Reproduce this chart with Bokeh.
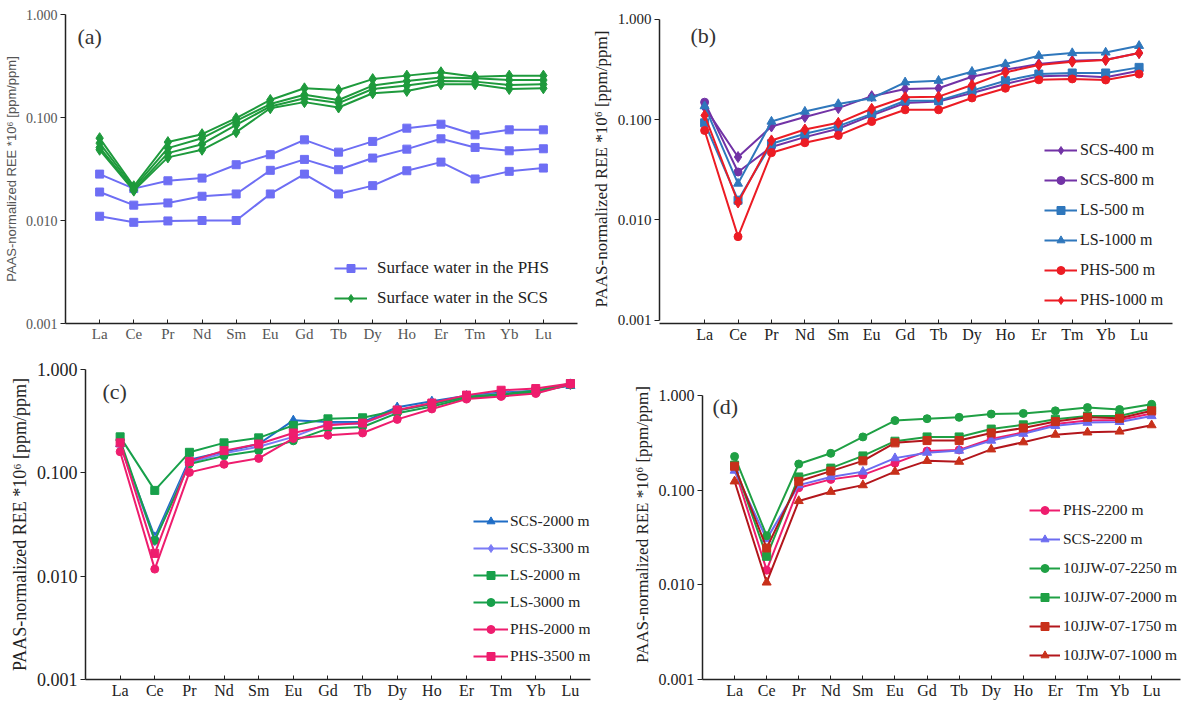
from bokeh.plotting import figure
from bokeh.models import (Range1d, FixedTicker, PrintfTickFormatter, ColumnDataSource,
                          Legend, LegendItem, Label)
from bokeh.layouts import column, row
from bokeh.embed import file_html
from bokeh.resources import INLINE

elements = ["La", "Ce", "Pr", "Nd", "Sm", "Eu", "Gd", "Tb", "Dy", "Ho", "Er", "Tm", "Yb", "Lu"]
x_pos = list(range(1, 15))
y_ticks = [0.001, 0.01, 0.1, 1.0]
y_title = "PAAS-normalized REE *10\u2076 [ppm/ppm]"

# ---- panel (a): surface water
a_phs_1 = [0.0282, 0.0204, 0.0243, 0.0258, 0.0348, 0.0435, 0.0607, 0.0461, 0.0586, 0.0788, 0.0861, 0.0679, 0.0759, 0.0759]
a_phs_2 = [0.0189, 0.0141, 0.0148, 0.0172, 0.0181, 0.0307, 0.0392, 0.0311, 0.0404, 0.0493, 0.0621, 0.0512, 0.0475, 0.0497]
a_phs_3 = [0.0110, 0.0096, 0.0099, 0.0100, 0.0100, 0.0181, 0.0282, 0.0181, 0.0218, 0.0304, 0.0369, 0.0253, 0.0300, 0.0323]
a_scs_1 = [0.0630, 0.0215, 0.0577, 0.0689, 0.0985, 0.148, 0.192, 0.185, 0.236, 0.255, 0.275, 0.249, 0.255, 0.255]
a_scs_2 = [0.0564, 0.0207, 0.0504, 0.0630, 0.0927, 0.135, 0.166, 0.148, 0.204, 0.226, 0.244, 0.240, 0.231, 0.231]
a_scs_3 = [0.0512, 0.0199, 0.0451, 0.0551, 0.0848, 0.128, 0.154, 0.138, 0.189, 0.204, 0.226, 0.223, 0.207, 0.210]
a_scs_4 = [0.0486, 0.0195, 0.0410, 0.0486, 0.0721, 0.123, 0.141, 0.125, 0.172, 0.181, 0.210, 0.210, 0.189, 0.192]
a_labels = ["Surface water in the PHS", "Surface water in the SCS"]

# ---- panel (b)
b_labels = ["SCS-400 m", "SCS-800 m", "LS-500 m", "LS-1000 m", "PHS-500 m", "PHS-1000 m"]
b_scs_400 = [0.133, 0.0423, 0.0853, 0.106, 0.130, 0.171, 0.202, 0.205, 0.267, 0.314, 0.357, 0.385, 0.395, 0.460]
b_scs_800 = [0.149, 0.0300, 0.0532, 0.0668, 0.0809, 0.110, 0.146, 0.151, 0.184, 0.226, 0.270, 0.274, 0.264, 0.307]
b_ls_500 = [0.0927, 0.0157, 0.0574, 0.0721, 0.0860, 0.114, 0.154, 0.154, 0.194, 0.244, 0.284, 0.291, 0.291, 0.331]
b_ls_1000 = [0.136, 0.0230, 0.0955, 0.120, 0.143, 0.163, 0.235, 0.244, 0.300, 0.357, 0.432, 0.460, 0.466, 0.543]
b_phs_500 = [0.0778, 0.0068, 0.0467, 0.0587, 0.0694, 0.0955, 0.125, 0.125, 0.164, 0.205, 0.249, 0.254, 0.248, 0.284]
b_phs_1000 = [0.110, 0.0149, 0.0619, 0.0796, 0.0927, 0.128, 0.167, 0.169, 0.221, 0.295, 0.349, 0.377, 0.392, 0.460]

# ---- panel (c)
c_labels = ["SCS-2000 m", "SCS-3300 m", "LS-2000 m", "LS-3000 m", "PHS-2000 m", "PHS-3500 m"]
c_scs_2000 = [0.190, 0.0239, 0.134, 0.160, 0.190, 0.322, 0.310, 0.310, 0.431, 0.492, 0.557, 0.599, 0.622, 0.695]
c_scs_3300 = [0.186, 0.0222, 0.126, 0.155, 0.179, 0.223, 0.299, 0.299, 0.401, 0.464, 0.545, 0.586, 0.612, 0.719]
c_ls_2000 = [0.223, 0.0676, 0.158, 0.195, 0.218, 0.288, 0.333, 0.341, 0.401, 0.464, 0.545, 0.577, 0.622, 0.731]
c_ls_3000 = [0.207, 0.0222, 0.122, 0.146, 0.164, 0.204, 0.268, 0.278, 0.378, 0.438, 0.529, 0.570, 0.599, 0.710]
c_phs_2000 = [0.160, 0.0117, 0.101, 0.121, 0.138, 0.215, 0.231, 0.243, 0.329, 0.415, 0.517, 0.549, 0.586, 0.719]
c_phs_3500 = [0.195, 0.0166, 0.129, 0.164, 0.190, 0.243, 0.288, 0.303, 0.406, 0.474, 0.565, 0.630, 0.654, 0.731]

# ---- panel (d)
d_labels = ["PHS-2200 m", "SCS-2200 m", "10JJW-07-2250 m", "10JJW-07-2000 m", "10JJW-07-1750 m", "10JJW-07-1000 m"]
d_phs_2200 = [0.168, 0.0143, 0.106, 0.130, 0.145, 0.193, 0.259, 0.266, 0.348, 0.408, 0.501, 0.543, 0.551, 0.647]
d_scs_2200 = [0.161, 0.0304, 0.113, 0.138, 0.157, 0.218, 0.249, 0.262, 0.334, 0.395, 0.478, 0.517, 0.526, 0.607]
d_jjw_2250 = [0.227, 0.0330, 0.189, 0.245, 0.365, 0.543, 0.569, 0.588, 0.636, 0.647, 0.689, 0.746, 0.711, 0.807]
d_jjw_2000 = [0.184, 0.0200, 0.138, 0.171, 0.230, 0.329, 0.365, 0.365, 0.442, 0.490, 0.561, 0.607, 0.607, 0.728]
d_jjw_1750 = [0.179, 0.0245, 0.124, 0.159, 0.204, 0.316, 0.334, 0.334, 0.402, 0.453, 0.530, 0.588, 0.574, 0.689]
d_jjw_1000 = [0.124, 0.0106, 0.0769, 0.0962, 0.113, 0.157, 0.204, 0.200, 0.270, 0.321, 0.386, 0.408, 0.417, 0.486]

SERIF = "Liberation Serif"
SANS = "Liberation Sans"


def make_panel(xr, yr, fw, fh, bl, br, bt, bb, tick_fs, xlab_fs, title_font, title_fs, tick_color, title_color):
    p = figure(x_range=Range1d(*xr), y_range=Range1d(*yr), y_axis_type="log",
               frame_width=fw, frame_height=fh,
               min_border_left=bl, min_border_right=br, min_border_top=bt, min_border_bottom=bb,
               output_backend="svg", toolbar_location=None)
    p.outline_line_color = None
    p.xgrid.visible = False
    p.ygrid.visible = False
    p.background_fill_color = "white"
    p.border_fill_color = "white"
    xa = p.xaxis[0]
    xa.ticker = FixedTicker(ticks=x_pos)
    xa.major_label_overrides = {i + 1: el for i, el in enumerate(elements)}
    xa.major_tick_in = 4
    xa.major_tick_out = 0
    xa.minor_tick_line_color = None
    xa.axis_line_width = 1.5
    xa.axis_line_color = "#222222"
    xa.major_tick_line_color = "#222222"
    xa.major_label_standoff = 2
    xa.major_label_text_font = SERIF
    xa.major_label_text_font_size = xlab_fs
    xa.major_label_text_color = tick_color
    ya = p.yaxis[0]
    ya.ticker = FixedTicker(ticks=y_ticks)
    ya.bounds = (0.001, 1.0)
    ya.formatter = PrintfTickFormatter(format="%.3f")
    ya.major_tick_in = 0
    ya.major_tick_out = 5
    ya.minor_tick_line_color = None
    ya.axis_line_width = 1.5
    ya.axis_line_color = "#222222"
    ya.major_tick_line_color = "#222222"
    ya.major_label_standoff = 3
    ya.major_label_text_font = SERIF
    ya.major_label_text_font_size = tick_fs
    ya.major_label_text_color = tick_color
    ya.axis_label = y_title
    ya.axis_label_standoff = 4
    ya.axis_label_text_font = title_font
    ya.axis_label_text_font_size = title_fs
    ya.axis_label_text_font_style = "normal"
    ya.axis_label_text_color = title_color
    return p


def series(p, ys, color, marker, size, line_color=None):
    src = ColumnDataSource(dict(x=x_pos, y=ys))
    lc = line_color or color
    l = p.line("x", "y", source=src, line_color=lc, line_width=2)
    s = p.scatter("x", "y", source=src, marker=marker, size=size, fill_color=color, line_color=color)
    return [l, s]


def add_legend(p, items, loc, gw, standoff, spacing, fs):
    leg = Legend(items=[LegendItem(label=t, renderers=r) for t, r in items], location=loc,
                 glyph_width=gw, glyph_height=20, label_height=20, label_standoff=standoff,
                 spacing=spacing, padding=0, margin=0, border_line_color=None,
                 background_fill_alpha=0, label_text_font=SERIF, label_text_font_size=fs,
                 label_text_color="#222222")
    p.add_layout(leg)


def panel_label(p, txt, x, y):
    p.add_layout(Label(x=x, y=y, x_units="screen", y_units="screen", text=txt,
                       text_font=SERIF, text_font_size="22px", text_baseline="middle",
                       text_color="#333333"))


# row 1: common borders top 14, frame 309, bottom 22
# ---------- (a)
pa = make_panel((0, 15), (0.001, 1.0), 512, 309, 60, 10, 14, 22, "14px", "15px", SANS, "13px", "#555555", "#555555")
BLUE_A = "#6E6EF4"
GREEN_A = "#1E9A3C"
ra = []
for ys in [a_phs_1, a_phs_2, a_phs_3]:
    ra.append(series(pa, ys, BLUE_A, "square", 8))
rs = []
for ys in [a_scs_1, a_scs_2, a_scs_3, a_scs_4]:
    rs.append(series(pa, ys, GREEN_A, "diamond", 11))
add_legend(pa, [(a_labels[0], ra[0]), (a_labels[1], rs[0])], (269, 15), 33, 10, 10, "17px")
panel_label(pa, "(a)", 12, 287)

# ---------- (b)
pb = make_panel((-0.35, 15), (0.000927, 1.114), 513, 309, 72, 10, 14, 22, "15px", "16px", SERIF, "17px", "#222222", "#222222")
PURPLE = "#7233A6"
BLUE_B = "#2F77BC"
RED_B = "#EC1C24"
rb = [
    series(pb, b_scs_400, PURPLE, "diamond", 11),
    series(pb, b_scs_800, PURPLE, "circle", 8),
    series(pb, b_ls_500, BLUE_B, "square", 8),
    series(pb, b_ls_1000, BLUE_B, "triangle", 9),
    series(pb, b_phs_500, RED_B, "circle", 8),
    series(pb, b_phs_1000, RED_B, "diamond", 11),
]
add_legend(pb, list(zip(b_labels, rb)), (385, 13), 33, 3, 10, "16px")
panel_label(pb, "(b)", 31, 288)

# row 2: common borders top 24, frame 310, bottom 22
# ---------- (c)
pc = make_panel((0, 14.58), (0.001, 1.0), 505, 310, 85, 2, 24, 22, "18px", "16px", SERIF, "18px", "#222222", "#222222")
rc = [
    series(pc, c_scs_2000, "#1F6DC6", "triangle", 9),
    series(pc, c_scs_3300, "#7B7BF6", "diamond", 11),
    series(pc, c_ls_2000, "#17A04A", "square", 8),
    series(pc, c_ls_3000, "#17A04A", "circle", 8),
    series(pc, c_phs_2000, "#EE1D6E", "circle", 8),
    series(pc, c_phs_3500, "#EE1D6E", "square", 8),
]
add_legend(pc, list(zip(c_labels, rc)), (388, 13), 35, 2, 7, "15.5px")
panel_label(pc, "(c)", 17, 288)

# ---------- (d)
pd_ = make_panel((0, 14.9), (0.001, 1.882), 478, 310, 110, 2, 24, 22, "16px", "16px", SERIF, "17px", "#222222", "#222222")
rd = [
    series(pd_, d_phs_2200, "#EE1D6E", "circle", 8),
    series(pd_, d_scs_2200, "#6C6CF0", "triangle", 9),
    series(pd_, d_jjw_2250, "#1FA044", "circle", 8),
    series(pd_, d_jjw_2000, "#1FA044", "square", 8),
    series(pd_, d_jjw_1750, "#C8301A", "square", 8, line_color="#B3161C"),
    series(pd_, d_jjw_1000, "#C8301A", "triangle", 9, line_color="#B3161C"),
]
add_legend(pd_, list(zip(d_labels, rd)), (327, 14), 31, 3, 9, "15.5px")
panel_label(pd_, "(d)", 10, 273)

layout = column(row(pa, pb), row(pc, pd_))
open("out.html", "w").write(file_html(layout, INLINE))
